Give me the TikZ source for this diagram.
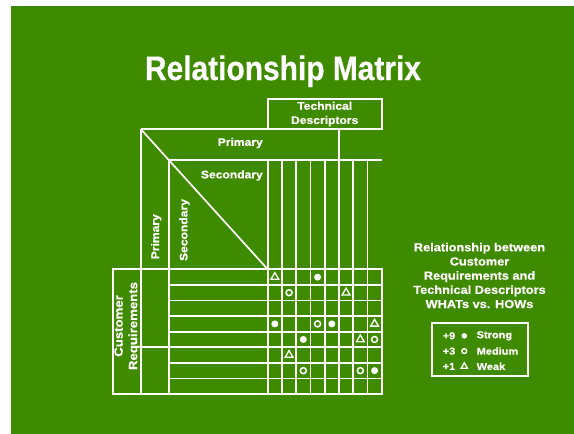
\documentclass[tikz,border=0pt]{standalone}
\usepackage{fontspec}
\setmainfont{Liberation Sans}
\newfontfamily\wideface{Liberation Sans}[FakeStretch=1.1,FakeBold=0.6]
\newfontfamily\titleface{Liberation Sans}[FakeStretch=0.88,FakeBold=0.5]
\usetikzlibrary{shapes.geometric}
\definecolor{slidegreen}{RGB}{63,139,0}

\begin{document}
\begin{tikzpicture}[x=1pt,y=-1pt,
  grid/.style={draw=white,line width=1.7pt},
  lbl/.style={text=white,inner sep=0pt,font=\wideface\bfseries\fontsize{11}{14.2}\selectfont},
  strong/.style={circle,fill=white,minimum size=7pt,inner sep=0pt},
  medium/.style={circle,draw=white,line width=1.5pt,minimum size=6pt,inner sep=0pt},
  weak/.style={regular polygon,regular polygon sides=3,draw=white,line width=1.3pt,minimum size=9pt,inner sep=0pt}]
\useasboundingbox (0,0) rectangle (574,434);
\fill[white] (0,0) rectangle (574,434);
\fill[slidegreen] (11,6) rectangle (574,434);
\node[text=white,inner sep=0pt,anchor=base,font=\titleface\bfseries\fontsize{34}{40}\selectfont] (title) at (283,80) {Relationship Matrix};
% roof and side walls
\draw[grid] (267.7,99) rectangle (381.7,129);
\draw[grid] (140.7,129) -- (381.7,129);
\draw[grid] (169.3,160) -- (381.7,160);
\draw[grid] (339.3,129) -- (339.3,160);
\draw[grid] (140.7,129) -- (267.7,269.3);
\draw[grid] (140.7,129) -- (140.7,394);
\draw[grid] (169.3,160) -- (169.3,394);
\draw[grid] (113.3,269.3) rectangle (381.7,394);
\draw[grid] (140.7,347.25) -- (169.3,347.25);
\foreach \i in {0,...,7}
  \draw[grid] ({267.7+14.25*\i},160) -- ({267.7+14.25*\i},394);
\foreach \j in {1,...,7}
  \draw[grid] (169.3,{269.3+15.59*\j}) -- (381.7,{269.3+15.59*\j});
% labels
\node[lbl,align=center] (techdesc) at (324.7,114) {Technical\\Descriptors};
\node[lbl,anchor=east] (prim) at (263,143) {Primary};
\node[lbl,anchor=east] (sec) at (263,175.5) {Secondary};
\node[lbl,rotate=90] (primv) at (156.2,236.7) {Primary};
\node[lbl,rotate=90] (secv) at (184.6,230) {Secondary};
\node[lbl,rotate=90,align=center,font=\wideface\bfseries\fontsize{12}{14.5}\selectfont] (custreq) at (127,326) {Customer\\Requirements};
% relationships
\foreach \c/\r/\t in {0/0/weak,3/0/strong,1/1/medium,5/1/weak,0/3/strong,3/3/medium,4/3/strong,7/3/weak,2/4/strong,6/4/weak,7/4/medium,1/5/weak,2/6/medium,6/6/medium,7/6/strong}
  \node[\t] (m\r\c) at ({267.7+14.25*(\c+.5)},{269.3+15.59*(\r+.5)}) {};
% right side
\node[lbl,align=center,font=\wideface\bfseries\fontsize{11.6}{14.2}\selectfont] (whathow) at (479.5,275.5) {Relationship between\\Customer\\Requirements and\\Technical Descriptors\\WHATs vs. HOWs};
\draw[grid] (432.3,323.3) rectangle (528.3,375.7);
\foreach \v/\t/\w [count=\k] in {+9/strong/Strong,+3/medium/Medium,+1/weak/Weak} {
  \node[lbl,anchor=west,font=\wideface\bfseries\fontsize{10}{12}\selectfont] (val\k) at (442.5,{320.5+15.3*\k}) {\v};
  \node[\t,scale=.8] (sym\k) at (464.3,{320.5+15.3*\k}) {};
  \node[lbl,anchor=west,font=\wideface\bfseries\fontsize{10}{12}\selectfont] (name\k) at (476.5,{320.5+15.3*\k}) {\w};
}
\end{tikzpicture}
\end{document}
